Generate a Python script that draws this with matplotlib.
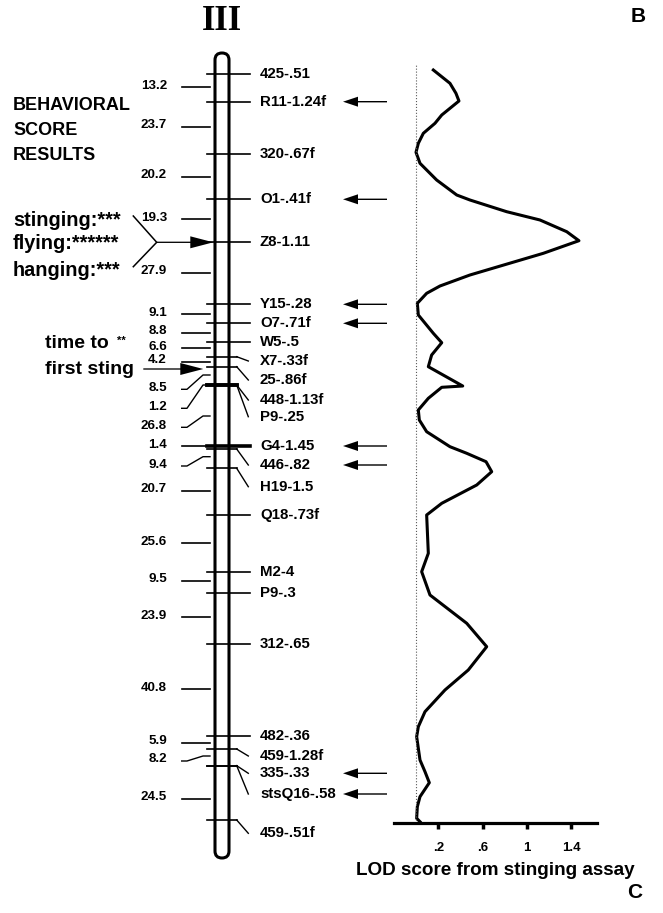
import matplotlib.pyplot as plt
from matplotlib.patches import FancyBboxPatch

# marker names on chromosome III, their map position (tick) and where the label sits
markers = ['425-.51', 'R11-1.24f', '320-.67f', 'O1-.41f', 'Z8-1.11', 'Y15-.28', 'O7-.71f',
           'W5-.5', 'X7-.33f', '25-.86f', '448-1.13f', 'P9-.25', 'G4-1.45', '446-.82',
           'H19-1.5', 'Q18-.73f', 'M2-4', 'P9-.3', '312-.65', '482-.36', '459-1.28f',
           '335-.33', 'stsQ16-.58', '459-.51f']
marker_pos = [74, 101.7, 154.3, 199.3, 242.3, 304.3, 323.3, 342.3, 356.7, 366.7, 385, 385,
              446, 449, 468.3, 515, 571.7, 592.7, 644.3, 735.7, 749, 765.7, 765.7, 820]
marker_label_pos = [74, 101.7, 154.3, 199.3, 242.3, 304.3, 323.3, 342.3, 361, 380, 400, 416.7,
                    446, 465, 486.7, 515, 571.7, 592.7, 644.3, 735.7, 756, 773.3, 794, 833.3]
thick_markers = ['448-1.13f', 'P9-.25', 'G4-1.45']
arrowed = ['R11-1.24f', 'O1-.41f', 'Y15-.28', 'O7-.71f', 'G4-1.45', '446-.82',
           '335-.33', 'stsQ16-.58']

# interval distances (cM) on the left
intervals = ['13.2', '23.7', '20.2', '19.3', '27.9', '9.1', '8.8', '6.6', '4.2', '8.5', '1.2',
             '26.8', '1.4', '9.4', '20.7', '25.6', '9.5', '23.9', '40.8', '5.9', '8.2', '24.5']
interval_pos = [87.3, 126.7, 176.7, 219.3, 272.7, 314, 332.7, 348.3, 361.7, 375, 385,
                416, 446, 456.7, 490.7, 543.3, 581, 617.3, 689.3, 742.7, 756, 799]
interval_label_pos = [87.3, 126.7, 176.7, 219.3, 272.7, 314, 332.7, 348.3, 361.7, 389.3, 408.3,
                      427.3, 446, 466, 490.7, 543.3, 581, 617.3, 689.3, 742.7, 761, 799]

# LOD profile along the map
lod_pos = [70, 83.3, 93.3, 101, 115, 123.3, 133.3, 143.3, 152.3, 163.3, 180, 195, 200, 211.7,
           220, 231.7, 240.7, 253.3, 275, 286, 293.3, 303.3, 315, 333.3, 342.7, 355, 366.7,
           386, 387.3, 398.3, 410, 420, 431.7, 446.7, 453.3, 461.7, 471.7, 485, 503.3, 515,
           553.3, 571.7, 595, 623.3, 646.7, 670, 690, 711.7, 726.7, 736.7, 760, 771.7, 782.7,
           796.7, 806.7, 818.3, 821.7]
lod_val = [0.156, 0.306, 0.360, 0.387, 0.232, 0.171, 0.066, 0.021, 0.0, 0.036, 0.186, 0.367,
           0.486, 0.817, 1.117, 1.358, 1.468, 1.147, 0.486, 0.216, 0.096, 0.012, 0.021, 0.156,
           0.232, 0.141, 0.111, 0.421, 0.232, 0.111, 0.021, 0.030, 0.096, 0.306, 0.457, 0.631,
           0.682, 0.547, 0.232, 0.096, 0.111, 0.051, 0.126, 0.457, 0.637, 0.471, 0.261, 0.081,
           0.021, 0.006, 0.036, 0.081, 0.120, 0.036, 0.012, 0.006, 0.036]
lod_ticks = [0.2, 0.6, 1.0, 1.4]
lod_ticklabels = ['.2', '.6', '1', '1.4']

plt.rcParams['font.family'] = ['Liberation Sans', 'DejaVu Sans']
plt.rcParams['font.weight'] = 'bold'

W, H = 663, 913
fig = plt.figure(figsize=(W / 100, H / 100), dpi=100)
ax = fig.add_axes([0, 0, 1, 1])
ax.set_xlim(0, W)
ax.set_ylim(H, 0)
ax.axis('off')

# chromosome
chrom = FancyBboxPatch((215, 53), 14, 805, boxstyle='round,pad=0,rounding_size=7',
                       fill=False, lw=2.2, ec='black', zorder=3)
ax.add_patch(chrom)
ax.text(221.5, 22, 'III', family='Liberation Serif', fontsize=25, fontweight='bold',
        ha='center', va='center')

# marker ticks and labels
for name, p, lp in zip(markers, marker_pos, marker_label_pos):
    lw = 2.6 if name in thick_markers else 1.2
    if lp == p:
        ax.plot([206.7, 250], [p, p], color='black', lw=lw)
    else:
        ax.plot([206.7, 236.7], [p, p], color='black', lw=lw)
        ax.plot([236.7, 248.3], [p, lp], color='black', lw=1.0)
    ax.text(260, lp, name, fontsize=10.8, va='center', ha='left')
    if name in arrowed:
        ax.arrow(387, lp, -44, 0, width=1.4, head_width=10, head_length=15,
                 length_includes_head=True, fc='black', ec='black', lw=0)

# interval ticks and labels
for lab, p, lp in zip(intervals, interval_pos, interval_label_pos):
    if lp == p:
        ax.plot([181.7, 210], [p, p], color='black', lw=1.2)
    else:
        ax.plot([181.7, 187, 203, 210], [lp, lp, p, p], color='black', lw=1.0)
    ax.text(167, lp - 1.5, lab, fontsize=9.6, ha='right', va='center')

# behavioral score annotations
for txt, y in zip(['BEHAVIORAL', 'SCORE', 'RESULTS'], [106, 130.7, 155.7]):
    ax.text(13, y, txt, fontsize=13, va='center', ha='left')
for txt, y in zip(['stinging:***', 'flying:******', 'hanging:***'], [220, 243.3, 270]):
    ax.text(13, y, txt, fontsize=14.3, va='center', ha='left')
ax.plot([133.3, 156.7, 133.3], [216, 242.3, 266.7], color='black', lw=1.1)
ax.arrow(156.7, 242.3, 56.6, 0, width=1.3, head_width=12, head_length=23,
         length_includes_head=True, fc='black', ec='black', lw=0)

ax.text(45, 343.3, 'time to', fontsize=14, va='center', ha='left')
ax.text(117, 341, '**', fontsize=8, va='center', ha='left')
ax.text(45, 369, 'first sting', fontsize=14, va='center', ha='left')
ax.arrow(143.3, 369, 60, 0, width=1.3, head_width=12, head_length=23,
         length_includes_head=True, fc='black', ec='black', lw=0)

ax.text(638, 17, 'B', fontsize=15, ha='center', va='center')
ax.text(635, 893, 'C', fontsize=15, ha='center', va='center')

# LOD plot
x0, x1, lod0, scale = 394, 597, 416, 111
ytop, ybot = 65, 822.7
ax2 = fig.add_axes([x0 / W, (H - ybot) / H, (x1 - x0) / W, (ybot - ytop) / H])
ax2.set_xlim((x0 - lod0) / scale, (x1 - lod0) / scale)
ax2.set_ylim(ybot, ytop)
ax2.patch.set_alpha(0)
ax2.plot(lod_val, lod_pos, color='black', lw=2.2, clip_on=False)
ax2.axvline(0, color='0.35', lw=0.8, ls=':')
for s in ['top', 'left', 'right']:
    ax2.spines[s].set_visible(False)
ax2.spines['bottom'].set_linewidth(2.3)
ax2.set_yticks([])
ax2.set_xticks(lod_ticks)
ax2.set_xticklabels(lod_ticklabels, fontsize=9.5, fontweight='bold')
ax2.tick_params(axis='x', direction='out', length=4, width=2.5, pad=10)
ax2.set_xlabel('LOD score from stinging assay', fontsize=13.6, fontweight='bold', labelpad=6)

fig.savefig('out.png', dpi=100)
